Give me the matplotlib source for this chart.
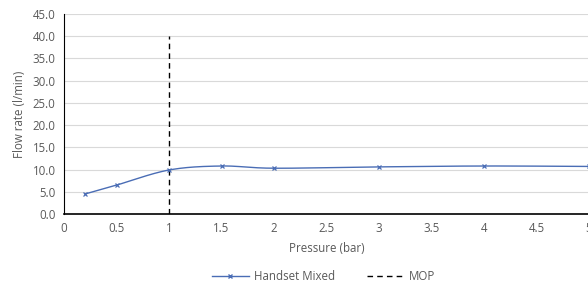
import numpy as np
import matplotlib
matplotlib.use('Agg')
import matplotlib.pyplot as plt
from matplotlib.lines import Line2D

# chart values
pressure = [0.2, 0.5, 1.0, 1.5, 2.0, 3.0, 4.0, 5.0]
flow_rate = [4.5, 6.5, 9.9, 10.8, 10.3, 10.6, 10.8, 10.7]
mop_x = [1.0, 1.0]
mop_y = [0.0, 40.0]
xticks = [0, 0.5, 1, 1.5, 2, 2.5, 3, 3.5, 4, 4.5, 5]
xticklabels = ['0', '0.5', '1', '1.5', '2', '2.5', '3', '3.5', '4', '4.5', '5']
yticks = [0, 5, 10, 15, 20, 25, 30, 35, 40, 45]


def smooth_line(x, y, n=30):
    # Excel style smoothing: cubic bezier with catmull-rom control points
    x = np.asarray(x, float)
    y = np.asarray(y, float)
    px = np.concatenate([[x[0]], x, [x[-1]]])
    py = np.concatenate([[y[0]], y, [y[-1]]])
    xs, ys = [], []
    t = np.linspace(0, 1, n)
    for i in range(1, len(px) - 2):
        p0 = np.array([px[i], py[i]])
        p3 = np.array([px[i + 1], py[i + 1]])
        c1 = p0 + (p3 - np.array([px[i - 1], py[i - 1]])) / 6
        c2 = p3 - (np.array([px[i + 2], py[i + 2]]) - p0) / 6
        b = ((1 - t) ** 3)[:, None] * p0 + (3 * (1 - t) ** 2 * t)[:, None] * c1 \
            + (3 * (1 - t) * t ** 2)[:, None] * c2 + (t ** 3)[:, None] * p3
        xs.extend(b[:, 0])
        ys.extend(b[:, 1])
    return xs, ys


plt.rcParams['font.family'] = ['Open Sans', 'DejaVu Sans']

fig = plt.figure(figsize=(5.88, 2.85), dpi=100)
ax = fig.add_axes([64 / 588, 1 - 214 / 285, 525 / 588, 200 / 285])

blue = '#4A6DB5'
fs = 8.3
sx, sy = smooth_line(pressure, flow_rate)
ax.plot(sx, sy, color=blue, lw=1.0, zorder=3)
ax.plot(pressure, flow_rate, ls='none', marker='x', ms=3.5, mew=0.9, color=blue, zorder=4)
ax.plot(mop_x, mop_y, color='black', lw=1.0, ls=(0, (4, 3)), zorder=2)

ax.set_xlim(0, 5)
ax.set_ylim(0, 45)
ax.set_xticks(xticks)
ax.set_xticklabels(xticklabels)
ax.set_yticks(yticks)
ax.set_yticklabels(['%.1f' % v for v in yticks])
ax.tick_params(length=0, labelsize=fs, labelcolor='#595959', pad=6)
ax.grid(axis='y', color='#D9D9D9', lw=0.8)
ax.set_axisbelow(True)
for s in ['top', 'right']:
    ax.spines[s].set_visible(False)
ax.spines['left'].set_color('black')
ax.spines['bottom'].set_color('black')
ax.spines['bottom'].set_linewidth(1.2)

ax.set_xlabel('Pressure (bar)', fontsize=fs, color='#595959', labelpad=5)
ax.set_ylabel('Flow rate (l/min)', fontsize=fs, color='#595959', labelpad=5)

handles = [Line2D([0, 0.5, 1], [0, 0, 0], color=blue, lw=1.0, marker='x', ms=3.5, markevery=[1]),
           Line2D([], [], color='black', lw=1.0, ls=(0, (4, 3)))]
fig.legend(handles, ['Handset Mixed', 'MOP'], loc='center', bbox_to_anchor=(0.55, 1 - 277 / 285),
           ncol=2, frameon=False, fontsize=fs, labelcolor='#595959', columnspacing=2.8,
           handlelength=3.2, handletextpad=0.4)

fig.savefig('out.png', dpi=100)
